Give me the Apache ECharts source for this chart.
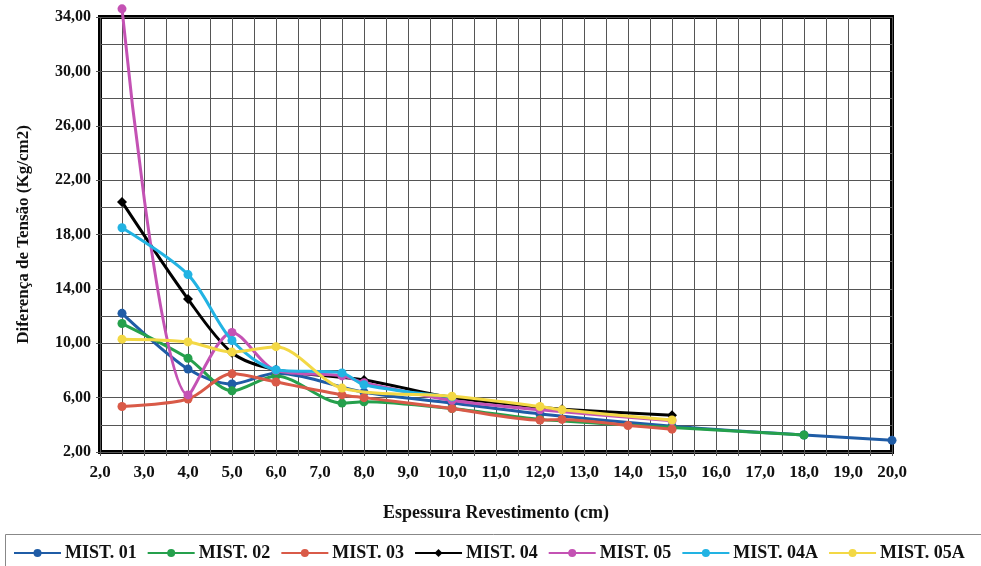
<!DOCTYPE html>
<html>
<head>
<meta charset="utf-8">
<script src="https://cdn.jsdelivr.net/npm/echarts@6/dist/echarts.min.js"></script>
<style>
html,body{margin:0;padding:0;background:#fff;}
#c{width:981px;height:566px;}
</style>
</head>
<body>
<div id="c"></div>
<script>
// Shared x positions (Espessura Revestimento, cm)
var xValues = [2.5, 4, 5, 6, 7.5, 8, 10, 12, 12.5, 14, 15, 18, 20];
// Series values (null = no point at that thickness)
var mist01  = [12.2, 8.1, 7.0, 7.8, null, 6.4, 5.6, 4.8, null, null, 3.9, 3.25, 2.86];
var mist02  = [11.45, 8.9, 6.5, 7.6, 5.6, 5.7, 5.2, 4.4, null, null, 3.8, 3.25, null];
var mist03  = [5.35, 5.9, 7.75, 7.15, 6.2, 6.0, 5.2, 4.35, 4.4, 3.95, 3.68, null, null];
var mist04  = [20.4, 13.25, 9.3, 8.05, null, 7.3, 6.0, 5.3, 5.15, null, 4.7, null, null];
var mist05  = [34.6, 6.2, 10.8, 8.0, 7.6, 7.1, 5.8, 5.1, null, null, 4.3, null, null];
var mist04A = [18.5, 15.05, 10.2, 8.05, 7.82, 6.95, 6.05, null, null, null, null, null, null];
var mist05A = [10.3, 10.1, 9.35, 9.75, 6.7, null, 6.1, 5.35, 5.1, null, 4.35, null, null];

var seriesNames = ['MIST. 01', 'MIST. 02', 'MIST. 03', 'MIST. 04', 'MIST. 05', 'MIST. 04A', 'MIST. 05A'];
var seriesValues = [mist01, mist02, mist03, mist04, mist05, mist04A, mist05A];
var seriesColors = ['#1f5ca6', '#25a04c', '#d95a48', '#000000', '#c452b4', '#22b3e3', '#f3d845'];

var yTickMin = 2, yTickMax = 34, yTickStep = 4;
var xTickMin = 2, xTickMax = 20, xTickStep = 1;

function pairs(vals) {
  var out = [];
  for (var i = 0; i < xValues.length; i++) {
    if (vals[i] !== null) out.push([xValues[i], vals[i]]);
  }
  return out;
}

var font = 'Liberation Serif';
var series = seriesNames.map(function (n, i) {
  return {
    name: n,
    type: 'line',
    data: pairs(seriesValues[i]),
    smooth: 0.3,
    clip: false,
    symbol: n === 'MIST. 04' ? 'diamond' : 'circle',
    symbolSize: n === 'MIST. 04' ? 10 : 9,
    color: seriesColors[i],
    lineStyle: { width: 3, color: seriesColors[i] },
    itemStyle: { color: seriesColors[i] },
    z: 2 + i
  };
});

var chart = echarts.init(document.getElementById('c'), null, { renderer: 'canvas' });
chart.setOption({
  animation: false,
  backgroundColor: '#ffffff',
  grid: {
    left: 100, top: 17, right: 89, bottom: 114,
    show: true, borderColor: '#000', borderWidth: 4, backgroundColor: 'transparent'
  },
  xAxis: {
    type: 'value',
    min: xTickMin, max: xTickMax, interval: xTickStep,
    name: 'Espessura Revestimento (cm)',
    nameLocation: 'middle',
    nameGap: 52,
    nameTextStyle: { fontFamily: font, fontWeight: 'bold', fontSize: 18, color: '#111' },
    axisLine: { show: false },
    axisTick: { show: true, length: 4, lineStyle: { color: '#555' } },
    minorTick: { show: true, splitNumber: 2, length: 4, lineStyle: { color: '#555' } },
    axisLabel: {
      fontFamily: font, fontWeight: 'bold', fontSize: 17, color: '#111', margin: 12,
      formatter: function (v) { return v.toFixed(1).replace('.', ','); }
    },
    splitLine: { show: true, lineStyle: { color: '#555', width: 1 } },
    minorSplitLine: { show: true, lineStyle: { color: '#555', width: 1 } }
  },
  yAxis: {
    type: 'value',
    min: yTickMin, max: yTickMax, interval: yTickStep,
    name: 'Diferença de Tensão (Kg/cm2)',
    nameLocation: 'middle',
    nameGap: 68,
    nameRotate: 90,
    nameTextStyle: { fontFamily: font, fontWeight: 'bold', fontSize: 17, color: '#111' },
    axisLine: { show: false },
    axisTick: { show: true, length: 4, lineStyle: { color: '#555' } },
    minorTick: { show: false, splitNumber: 2 },
    axisLabel: {
      fontFamily: font, fontWeight: 'bold', fontSize: 16, color: '#111', margin: 9,
      formatter: function (v) { return v.toFixed(2).replace('.', ','); }
    },
    splitLine: { show: true, lineStyle: { color: '#555', width: 1 } },
    minorSplitLine: { show: true, lineStyle: { color: '#555', width: 1 } }
  },
  legend: {
    data: seriesNames,
    left: 8, top: 544,
    padding: [0, 5, 0, 5],
    itemWidth: 47, itemHeight: 10, itemGap: 10,
    textStyle: { fontFamily: font, fontWeight: 'bold', fontSize: 18, color: '#111', padding: [0, 0, 0, -1] }
  },
  graphic: [{
    type: 'rect', silent: true,
    shape: { x: 5.5, y: 534.5, width: 980, height: 35 },
    style: { fill: 'none', stroke: '#888', lineWidth: 1 }
  }],
  series: series
});
</script>
</body>
</html>
